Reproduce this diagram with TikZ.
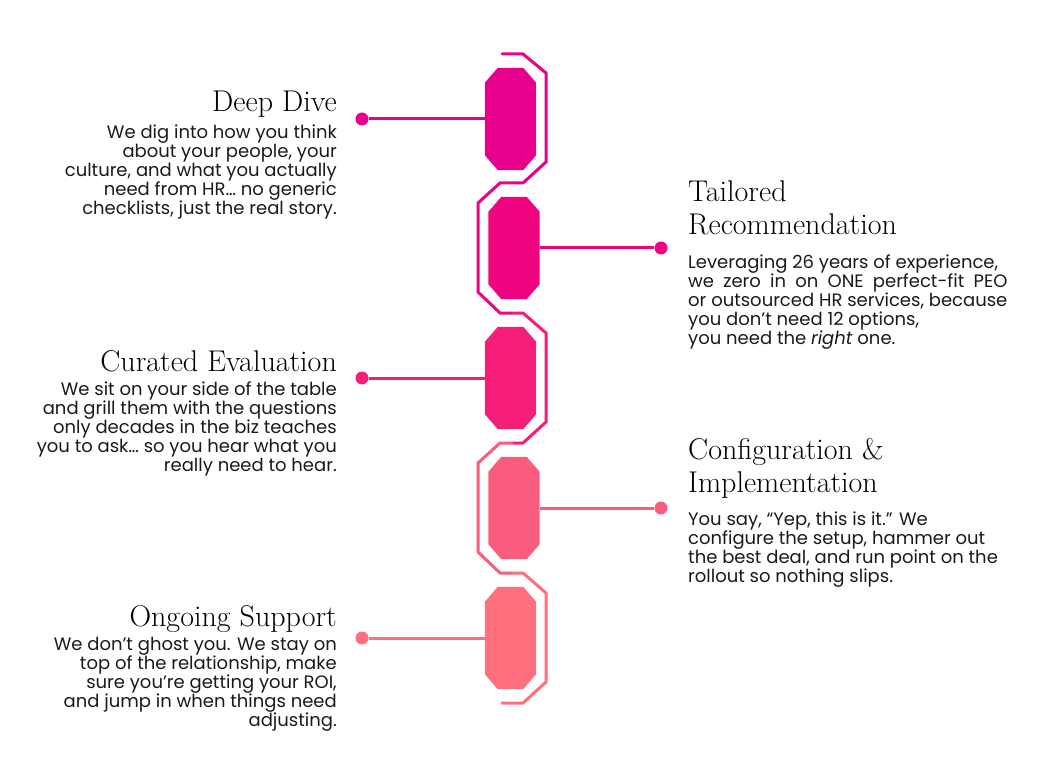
\documentclass[tikz,border=0pt]{standalone}
\usepackage{fontspec}
\usepackage{calc}
\newfontfamily\bodyfont{Poppins}
\usetikzlibrary{positioning}

\definecolor{stepA}{HTML}{E6008C}
\definecolor{stepB}{HTML}{EF047F}
\definecolor{stepC}{HTML}{F41E78}
\definecolor{stepD}{HTML}{F95C7D}
\definecolor{stepE}{HTML}{FF6F7E}
\definecolor{txt}{HTML}{1A1A1A}

\begin{document}
\begin{tikzpicture}[x=1pt,y=-1pt,
	stepbox/.style={rectangle, minimum width=51pt, minimum height=102pt, inner sep=0pt},
	dot/.style={circle, minimum size=13pt, inner sep=0pt},
	title/.style={font=\fontsize{30}{33}\selectfont, text=black, inner sep=0pt},
	body/.style={font=\bodyfont\fontsize{18}{19}\selectfont, text=txt, inner sep=0pt},
	link/.style={line width=3pt},
	track/.style={line width=3pt, line cap=round}]

	\useasboundingbox (0,0) rectangle (1048,783);

	% Track around the steps
	\draw[track, stepA] (502,54) -- (523,54) -- (546,73) -- (546,162) -- (523,183) -- (512,183);
	\draw[track, stepB] (512,183) -- (500,183) -- (478,203) -- (478,292) -- (500,313) -- (512,313);
	\draw[track, stepC] (512,313) -- (523,313) -- (546,333) -- (546,422) -- (523,443) -- (512,443);
	\draw[track, stepD] (512,443) -- (500,443) -- (478,463) -- (478,552) -- (500,573) -- (512,573);
	\draw[track, stepE] (512,573) -- (523,573) -- (546,593) -- (546,682) -- (523,703) -- (502,703);

	% Steps
	\node[stepbox] (oct1) at (510.5,119) {};
	\node[stepbox] (oct2) at (514,248) {};
	\node[stepbox] (oct3) at (510.5,378) {};
	\node[stepbox] (oct4) at (514,508) {};
	\node[stepbox] (oct5) at (510.5,638) {};
	\foreach \i/\c in {1/stepA,2/stepB,3/stepC,4/stepD,5/stepE}
		\fill[\c] ([xshift=13pt]oct\i.north west) -- ([xshift=-13pt]oct\i.north east)
			-- ([yshift=-15pt]oct\i.north east) -- ([yshift=15pt]oct\i.south east)
			-- ([xshift=-13pt]oct\i.south east) -- ([xshift=13pt]oct\i.south west)
			-- ([yshift=15pt]oct\i.south west) -- ([yshift=-15pt]oct\i.north west) -- cycle;

	% Dots and links
	\node[dot, fill=stepA] (dot1) at (362,119) {};
	\node[dot, fill=stepB] (dot2) at (661,248) {};
	\node[dot, fill=stepC] (dot3) at (362,378) {};
	\node[dot, fill=stepD] (dot4) at (661,508) {};
	\node[dot, fill=stepE] (dot5) at (362,638) {};
	\draw[link, stepA] (dot1) -- (oct1);
	\draw[link, stepB] (oct2) -- (dot2);
	\draw[link, stepC] (dot3) -- (oct3);
	\draw[link, stepD] (oct4) -- (dot4);
	\draw[link, stepE] (dot5) -- (oct5);

	% Left texts
	\node[title, anchor=base east] (title1) at (337,112) {Deep Dive};
	\node[body, anchor=north east, align=right] (text1) at (337,124.5) {We dig into how you think\\about your people, your\\culture, and what you actually\\need from HR\ldots\ no generic\\checklists, just the real story.};

	\node[title, anchor=base east] (title3) at (337,371) {Curated Evaluation};
	\node[body, anchor=north east, align=right] (text3) at (337,382) {We sit on your side of the table\\and grill them with the questions\\only decades in the biz teaches\\you to ask\ldots\ so you hear what you\\really need to hear.};

	\node[title, anchor=base east] (title5) at (337,626) {Ongoing Support};
	\node[body, anchor=north east, align=right] (text5) at (337,637) {We don’t ghost you. We stay on\\top of the relationship, make\\sure you’re getting your ROI,\\and jump in when things need\\adjusting.};

	% Right texts
	\node[title, anchor=base west, align=left] (title2) at (688,235) {Tailored\\Recommendation};
	\node[body, anchor=north west, align=left] (text2) at (688,254.5) {Leveraging 26 years of experience,\\\makebox[\widthof{or outsourced HR services, because}][s]{we zero in on ONE perfect-fit PEO}\\or outsourced HR services, because\\you don’t need 12 options,\\you need the \textit{right} one.};

	\node[title, anchor=base west, align=left] (title4) at (688,492) {Configuration \&\\Implementation};
	\node[body, anchor=north west, align=left] (text4) at (688,511.5) {You say, “Yep, this is it.” We\\configure the setup, hammer out\\the best deal, and run point on the\\rollout so nothing slips.};

\end{tikzpicture}
\end{document}
